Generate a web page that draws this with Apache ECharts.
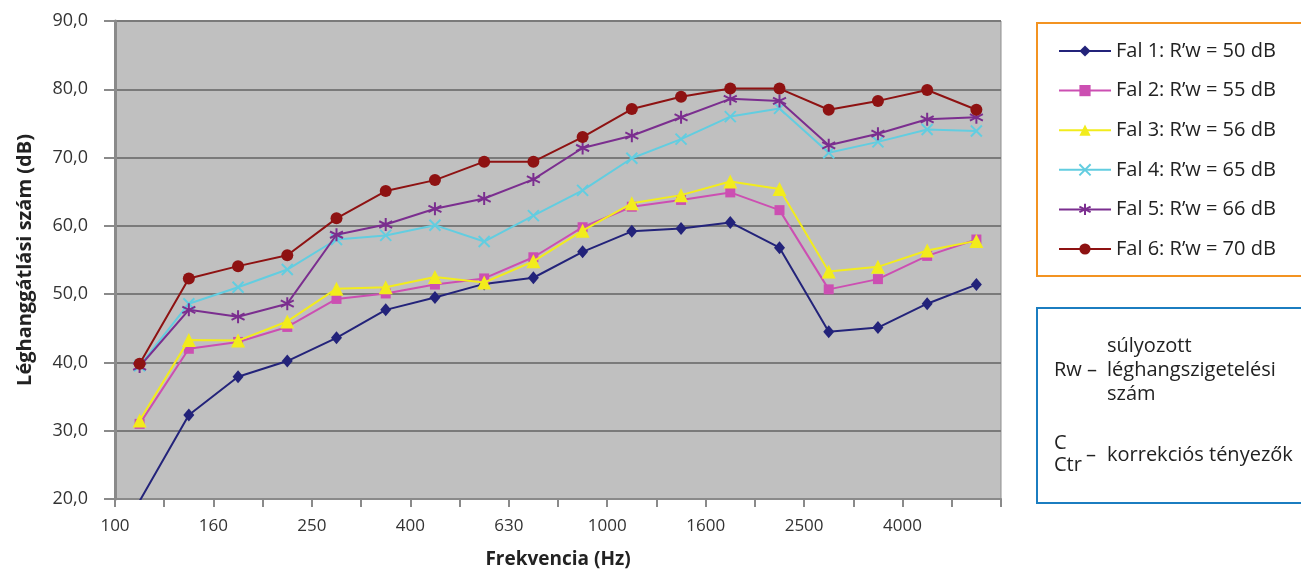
<!DOCTYPE html>
<html>
<head>
<meta charset="utf-8">
<script src="https://cdn.jsdelivr.net/npm/echarts@6/dist/echarts.min.js"></script>
<style>
html,body{margin:0;padding:0;background:#fff;}
#c{width:1301px;height:574px;}
</style>
</head>
<body>
<div id="c"></div>
<script>
const categories = ['100','125','160','200','250','315','400','500','630','800','1000','1250','1600','2000','2500','3150','4000','5000'];
const seriesNames = ['Fal 1: R’w = 50 dB','Fal 2: R’w = 55 dB','Fal 3: R’w = 56 dB','Fal 4: R’w = 65 dB','Fal 5: R’w = 66 dB','Fal 6: R’w = 70 dB'];
const fal1 = [19.7, 32.3, 37.9, 40.2, 43.6, 47.7, 49.5, 51.5, 52.4, 56.2, 59.2, 59.6, 60.5, 56.8, 44.5, 45.1, 48.6, 51.4];
const fal2 = [31.0, 42.0, 43.0, 45.2, 49.3, 50.1, 51.4, 52.3, 55.4, 59.8, 62.8, 63.8, 64.9, 62.3, 50.7, 52.2, 55.6, 58.0];
const fal3 = [31.5, 43.3, 43.2, 46.0, 50.8, 51.0, 52.5, 51.7, 54.8, 59.3, 63.3, 64.5, 66.5, 65.4, 53.3, 54.0, 56.4, 57.8];
const fal4 = [39.5, 48.6, 51.0, 53.6, 58.0, 58.6, 60.1, 57.7, 61.5, 65.2, 69.9, 72.7, 76.0, 77.2, 70.7, 72.3, 74.1, 73.9];
const fal5 = [39.4, 47.7, 46.7, 48.6, 58.7, 60.2, 62.5, 64.0, 66.8, 71.4, 73.2, 75.9, 78.6, 78.3, 71.8, 73.5, 75.6, 75.9];
const fal6 = [39.8, 52.3, 54.1, 55.7, 61.1, 65.1, 66.7, 69.4, 69.4, 73.0, 77.1, 78.9, 80.1, 80.1, 77.0, 78.3, 79.9, 77.0];
const yTicks = [20, 30, 40, 50, 60, 70, 80, 90];

const allData = [fal1, fal2, fal3, fal4, fal5, fal6];
const colors = ['#23237a', '#cc4fb2', '#f2ec1c', '#62cde0', '#7b2e8f', '#8e1212'];
const symbols = [
  'diamond', 'rect', 'triangle',
  'path://M0,0L10,10M10,0L0,10',
  'path://M5,0L5,10M0.7,2.5L9.3,7.5M0.7,7.5L9.3,2.5',
  'circle'
];
const sizes = [[11,13], 10, 14, 11, 13, 12];

const FONT = '"Open Sans", "Noto Sans", sans-serif';

const chart = echarts.init(document.getElementById('c'), null, {renderer: 'canvas'});

const series = allData.map((vals, k) => ({
  name: seriesNames[k],
  type: 'line',
  data: vals.map((v, i) => [i + 0.5, v]),
  symbol: symbols[k],
  symbolSize: sizes[k],
  showAllSymbol: true,
  clip: true,
  z: 2 + k,
  lineStyle: {color: colors[k], width: 2},
  itemStyle: (k === 3 || k === 4)
    ? {color: colors[k], borderColor: colors[k], borderWidth: 2}
    : {color: colors[k], borderWidth: 0},
  emphasis: {disabled: true}
}));

chart.setOption({
  animation: false,
  backgroundColor: '#ffffff',
  grid: {
    left: 115, right: 300, top: 21, bottom: 71,
    show: true, backgroundColor: '#c0c0c0', borderColor: '#8f8f8f', borderWidth: 1
  },
  xAxis: {
    type: 'value',
    min: 0, max: categories.length, interval: 1,
    name: 'Frekvencia (Hz)',
    nameLocation: 'middle',
    nameGap: 51,
    nameTextStyle: {fontFamily: FONT, fontWeight: 'bold', fontSize: 19, color: '#222'},
    axisLine: {show: true, onZero: false, lineStyle: {color: '#8a8a8a', width: 2}},
    axisTick: {show: true, length: 8, lineStyle: {color: '#8a8a8a', width: 2}},
    splitLine: {show: false},
    axisLabel: {
      margin: 19,
      fontFamily: FONT, fontSize: 17, color: '#333',
      showMinLabel: true, showMaxLabel: true,
      formatter: v => (v % 2 === 0 && v < categories.length) ? categories[v] : ''
    }
  },
  yAxis: {
    type: 'value',
    min: yTicks[0], max: yTicks[yTicks.length - 1], interval: 10,
    name: 'Léghanggátlási szám (dB)',
    nameLocation: 'middle',
    nameGap: 80,
    nameRotate: 90,
    nameTextStyle: {fontFamily: FONT, fontWeight: 'bold', fontSize: 20, color: '#222'},
    axisLine: {show: true, lineStyle: {color: '#8a8a8a', width: 3}},
    axisTick: {show: true, length: 11, lineStyle: {color: '#8a8a8a', width: 2}},
    splitLine: {show: true, lineStyle: {color: '#7a7a7a', width: 2}},
    axisLabel: {
      margin: 27,
      fontFamily: FONT, fontSize: 18, color: '#333',
      formatter: v => v.toFixed(1).replace('.', ',')
    }
  },
  legend: {
    orient: 'vertical',
    left: 1058, top: 41,
    itemWidth: 52, itemHeight: 14,
    itemGap: 19.6,
    padding: 0,
    data: seriesNames,
    textStyle: {fontFamily: FONT, fontSize: 20, color: '#222', lineHeight: 20}
  },
  graphic: [
    {type: 'rect', shape: {x: 1037, y: 23, width: 272, height: 253}, style: {fill: 'none', stroke: '#f39321', lineWidth: 2}, silent: true},
    {type: 'rect', shape: {x: 1037, y: 308, width: 272, height: 195}, style: {fill: 'none', stroke: '#1b7dc0', lineWidth: 2}, silent: true},
    {type: 'text', left: 1107, top: 336, style: {text: 'súlyozott', font: '20px ' + FONT, fill: '#222'}},
    {type: 'text', left: 1054, top: 360, style: {text: 'Rw', font: '20px ' + FONT, fill: '#222'}},
    {type: 'text', left: 1087, top: 360, style: {text: '–', font: '20px ' + FONT, fill: '#222'}},
    {type: 'text', left: 1107, top: 360, style: {text: 'léghangszigetelési', font: '20px ' + FONT, fill: '#222'}},
    {type: 'text', left: 1107, top: 384, style: {text: 'szám', font: '20px ' + FONT, fill: '#222'}},
    {type: 'text', left: 1054, top: 433, style: {text: 'C', font: '20px ' + FONT, fill: '#222'}},
    {type: 'text', left: 1054, top: 455, style: {text: 'Ctr', font: '20px ' + FONT, fill: '#222'}},
    {type: 'text', left: 1086, top: 445, style: {text: '–', font: '20px ' + FONT, fill: '#222'}},
    {type: 'text', left: 1107, top: 445, style: {text: 'korrekciós tényezők', font: '20px ' + FONT, fill: '#222'}}
  ],
  series: series
});
</script>
</body>
</html>
